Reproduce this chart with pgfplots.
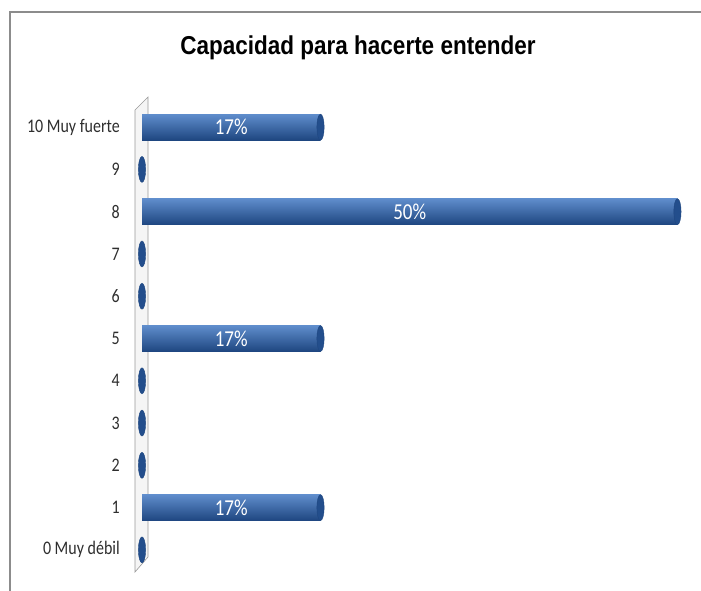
\documentclass[border=0pt]{standalone}
\usepackage{pgfplots}
\pgfplotsset{compat=1.18}
\usepackage{graphicx}
\usepackage{fontspec}
\setmainfont{Carlito}
\newfontfamily\titlefont{Liberation Sans}
\definecolor{barmid}{HTML}{3162A8}
\definecolor{bartop}{HTML}{5F8DCC}
\definecolor{barbot}{HTML}{1E4680}
\definecolor{capcol}{HTML}{234E8C}
\newcommand{\sy}[1]{\scalebox{1}[1.2]{#1}}
\pgfplotsset{cyl/.style={xbar, bar width=26pt, bar shift=0pt, draw=none, top color=bartop, middle color=barmid, bottom color=barbot}}
\begin{document}
\begin{tikzpicture}
\useasboundingbox (0pt,0pt) rectangle (701pt,-590pt);
% frame
\draw[color=black!45, line width=1.2pt] (10pt,-592pt) -- (10pt,-12pt) -- (705pt,-12pt);
% wall
\draw[color=black!40, fill=black!4, line width=0.6pt] (135pt,-110pt) -- (135pt,-572pt) -- (148pt,-557pt) -- (148pt,-97pt) -- cycle;
% title
\node[font=\titlefont\bfseries\fontsize{22.5}{26}\selectfont] at (358pt,-48pt) {\scalebox{1}[1.15]{Capacidad para hacerte entender}};
\begin{axis}[
  at={(142pt,-571pt)}, anchor=south west,
  scale only axis, width=559pt, height=465pt,
  xmin=0, xmax=52.2, ymin=-0.5, ymax=10.5,
  clip=false,
  axis line style={draw=none},
  xtick=\empty,
  ytick={0,1,2,3,4,5,6,7,8,9,10},
  yticklabels={\sy{0 Muy débil},\sy{1},\sy{2},\sy{3},\sy{4},\sy{5},\sy{6},\sy{7},\sy{8},\sy{9},\sy{10 Muy fuerte}},
  major tick length=0pt,
  yticklabel style={font=\fontsize{16}{18}\selectfont, color=black!82, inner sep=0pt, xshift=-22pt, anchor=east},
]
\addplot[cyl] coordinates {(16.67,1)};
\addplot[cyl] coordinates {(16.67,5)};
\addplot[cyl] coordinates {(50,8)};
\addplot[cyl] coordinates {(16.67,10)};
\addplot[only marks, mark=*, mark size=13pt, mark options={xscale=0.28, fill=capcol, draw=barbot, line width=0.4pt}]
  coordinates {(0,0) (16.67,1) (0,2) (0,3) (0,4) (16.67,5) (0,6) (0,7) (50,8) (0,9) (16.67,10)};
\addplot[only marks, mark=none, point meta=explicit symbolic, nodes near coords,
  nodes near coords style={anchor=center, color=white, font=\fontsize{19}{21}\selectfont}]
  coordinates {(8.33,1) [\sy{17\%}] (8.33,5) [\sy{17\%}] (25,8) [\sy{50\%}] (8.33,10) [\sy{17\%}]};
\end{axis}
\end{tikzpicture}
\end{document}
